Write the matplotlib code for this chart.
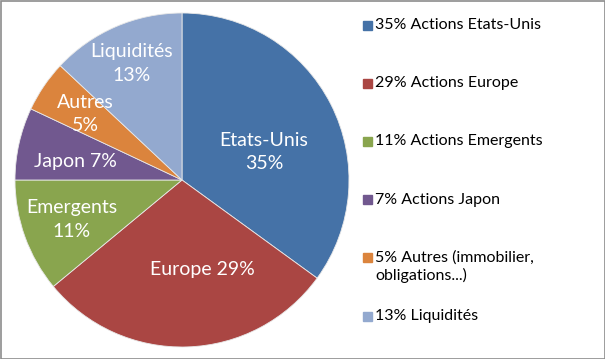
import numpy as np
import matplotlib.pyplot as plt
from matplotlib.patches import Rectangle

plt.rcParams['font.family'] = ['Lato', 'DejaVu Sans']

# data
names = ['Etats-Unis', 'Europe', 'Emergents', 'Japon', 'Autres', 'Liquidités']
shares = [35, 29, 11, 7, 5, 13]
pie_labels = ['Etats-Unis\n35%', 'Europe 29%', 'Emergents\n11%', 'Japon 7%', 'Autres\n5%', 'Liquidités\n13%']
legend_labels = ['35% Actions Etats-Unis', '29% Actions Europe', '11% Actions Emergents',
                 '7% Actions Japon', '5% Autres (immobilier,\nobligations...)', '13% Liquidités']
colors = ['#4572A7', '#AA4643', '#89A54E', '#71588F', '#DB843D', '#93A9CF']

# label placement (radius fraction, angle nudge in degrees)
lab_r = [0.52, 0.55, 0.70, 0.65, 0.70, 0.76]
lab_da = [-8, 11, 0, 3, 0, 0]

W, H = 605, 359
fig = plt.figure(figsize=(W / 100, H / 100), dpi=100)
ax = fig.add_axes([15 / W, 12 / H, 334 / W, 334 / H])

wedges, _ = ax.pie(shares, colors=colors, startangle=90, counterclock=False,
                   wedgeprops=dict(edgecolor='#e8e8e8', linewidth=0.6))
ax.set_xlim(-1, 1)
ax.set_ylim(-1, 1)
ax.set_aspect('equal')

for w, lab, r, da in zip(wedges, pie_labels, lab_r, lab_da):
    mid = np.deg2rad((w.theta1 + w.theta2) / 2 + da)
    ax.text(r * np.cos(mid), r * np.sin(mid), lab, ha='center', va='center',
            color='white', fontsize=14, linespacing=1.45)

# legend drawn by hand so the marker sits on the first line
y0, step = 25, 58.2
for i, (lab, c) in enumerate(zip(legend_labels, colors)):
    y = y0 + i * step
    fig.patches.append(Rectangle((363 / W, 1 - (y + 4.5) / H), 9 / W, 9 / H,
                                 transform=fig.transFigure, color=c))
    fig.text(375 / W, 1 - (y - 7) / H, lab, ha='left', va='top', fontsize=11.5,
             color='black', linespacing=1.25)

fig.patches.append(Rectangle((0.5 / W, 0.5 / H), 1 - 1 / W, 1 - 1 / H, transform=fig.transFigure,
                             fill=False, edgecolor='#8c8c8c', linewidth=1.2))

fig.savefig('out.png', dpi=100)
